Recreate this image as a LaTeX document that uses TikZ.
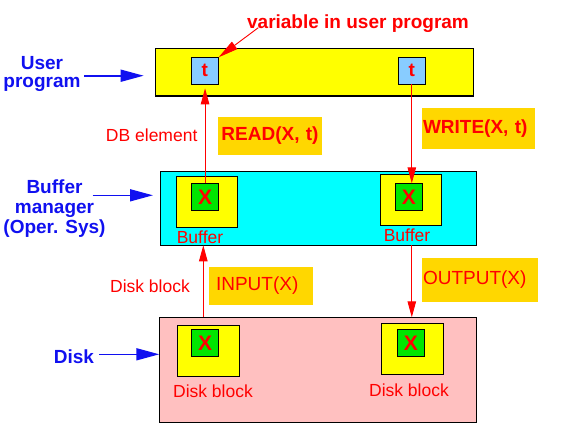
\documentclass[tikz,border=0pt]{standalone}
\usepackage{fontspec}
\setmainfont{Liberation Sans}
\usetikzlibrary{arrows.meta}

\definecolor{layeryellow}{RGB}{255,255,0}
\definecolor{layercyan}{RGB}{0,255,255}
\definecolor{layerpink}{RGB}{255,192,192}
\definecolor{varblue}{RGB}{136,204,255}
\definecolor{elemgreen}{RGB}{0,230,0}
\definecolor{opgold}{RGB}{255,215,0}
\definecolor{lblblue}{RGB}{16,16,240}
\definecolor{lblred}{RGB}{255,0,0}

\tikzset{
  layer/.style={draw, line width=1.2pt, inner sep=0pt, outer sep=0pt},
  blockbox/.style={draw, fill=layeryellow, line width=1pt, inner sep=0pt, outer sep=0pt,
    minimum width=61.5pt, minimum height=51pt},
  varbox/.style={draw, fill=varblue, line width=1pt, inner sep=0pt, outer sep=0pt,
    minimum width=27.5pt, minimum height=27pt, text=lblred, font=\fontsize{19}{19}\selectfont\bfseries},
  elembox/.style={draw, fill=elemgreen, line width=1pt, inner sep=0pt, outer sep=0pt,
    minimum width=27.5pt, minimum height=27.4pt, text=lblred, font=\fontsize{21}{21}\selectfont\bfseries},
  opbox/.style={fill=opgold, text=lblred, inner xsep=1pt, inner ysep=0pt, align=left,
    font=\fontsize{19}{19}\selectfont},
  redlbl/.style={text=lblred, anchor=base, inner sep=0pt, font=\fontsize{17.5}{17.5}\selectfont},
  bluelbl/.style={text=lblblue, align=center, inner sep=0pt, font=\fontsize{19}{#1}\selectfont\bfseries},
  bluelbl/.default=18,
  redarrow/.style={draw=lblred, line width=0.9pt, -{Triangle[length=16pt,width=8.5pt]}},
  bluearrow/.style={draw=lblblue, line width=1.6pt, -{Triangle[length=23pt,width=12pt]}}
}

\begin{document}
\begin{tikzpicture}[x=1pt,y=-1pt]
\useasboundingbox (0,0) rectangle (566,424);
%  Three layers
\node[layer, fill=layeryellow, minimum width=318pt, minimum height=47.7pt] (user) at (314.3,72.15) {};
\node[layer, fill=layercyan, minimum width=316.2pt, minimum height=74pt] (buffer) at (318.5,208.3) {};
\node[layer, fill=layerpink, minimum width=317.2pt, minimum height=105pt] (disk) at (317.9,369.8) {};
%  Variables t
\node[varbox] (lt) at (204.85,70.8) {t};
\node[varbox] (rt) at (411.8,70.8) {t};
%  Buffers and disk blocks holding X
\node[blockbox, minimum width=61.2pt] (lbuf) at (206.9,201.8) {};
\node[blockbox, minimum width=60.6pt] (rbuf) at (411.2,199.8) {};
\node[elembox] (lgx) at (205.05,197) {X};
\node[elembox] (rgx) at (408.85,197) {X};
\node[blockbox, minimum width=62.1pt] (ldb) at (208.35,350.8) {};
\node[blockbox, minimum width=62.1pt] (rdb) at (412.25,348.8) {};
\node[elembox] (ldx) at (205.05,343) {X};
\node[elembox] (rdx) at (411,343) {X};
\node[redlbl, font=\fontsize{17.5}{17.5}\selectfont] (lbuflbl) at (200,243.3) {Buffer};
\node[redlbl] (rbuflbl) at (407,241) {Buffer};
\node[redlbl] (ldblbl) at (213,397) {Disk block};
\node[redlbl] (rdblbl) at (409,396.5) {Disk block};
%  Layer names on the left
\node[bluelbl] (userlbl) at (42,73.7) {User\\program};
\node[bluelbl=20] (buflbl) at (54.5,208.5) {Buffer\\manager\\(Oper. Sys)};
\node[bluelbl] (disklbl) at (74,357) {Disk};
\coordinate (ua) at (84,75.7);
\coordinate (ba) at (92.7,195.3);
\coordinate (da) at (99.3,354.3);
\draw[bluearrow, shorten >=11.6pt] (ua) -- (ua -| user.west);
\draw[bluearrow, shorten >=7.4pt] (ba) -- (ba -| buffer.west);
\draw[bluearrow] (da) -- (da -| disk.west);
%  variable in user program
\node[redlbl, font=\fontsize{19}{19}\selectfont\bfseries] (var) at (358,28) {variable in user program};
\coordinate (vtail) at (258.3,27.7);
\draw[redarrow, -{Triangle[length=20pt,width=9pt]}] (vtail) -- (lt.north east);
%  READ and WRITE
\draw[redarrow, shorten >=4pt] (lgx.north) -- (lgx.north |- lt.south);
\draw[redarrow] (rt.south) -- (rt.south |- rgx.north);
\node[redlbl] (dblbl) at (151.7,141.7) {DB element};
\node[opbox, align=center, text width=102pt, minimum height=38.3pt, font=\fontsize{19}{19}\selectfont\bfseries] (read) at (270,135.85) {READ(X, t)};
\node[opbox, text width=111pt, minimum height=40.7pt, font=\fontsize{19}{19}\selectfont\bfseries] (write) at (478.5,128.35) {WRITE(X, t)};
%  INPUT and OUTPUT
\coordinate (inbot) at (203.3,317.3);
\draw[redarrow] (inbot) -- (inbot |- buffer.south);
\draw[redarrow] (rt.south |- buffer.south) -- (rt.south |- disk.north);
\node[redlbl] (dklbl) at (150,292.3) {Disk block};
\node[opbox, inner xsep=7pt, text width=89.7pt, minimum height=37.7pt] (input) at (260.85,285.85) {INPUT(X)};
\node[opbox, text width=113.7pt, minimum height=43.4pt] (output) at (479.85,280) {OUTPUT(X)};
\end{tikzpicture}
\end{document}
